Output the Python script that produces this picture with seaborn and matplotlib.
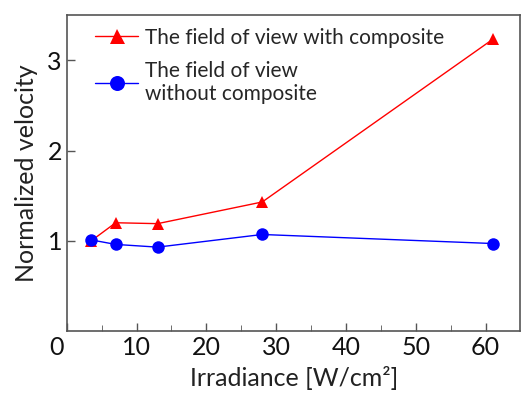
import numpy as np
import pandas as pd
import matplotlib
matplotlib.use("Agg")
import matplotlib.pyplot as plt
import matplotlib.transforms as mtransforms
import seaborn as sns

# Data
irradiance = [3.5, 7, 13, 28, 61]
with_composite = [1.0, 1.20, 1.19, 1.43, 3.23]
without_composite = [1.01, 0.96, 0.93, 1.07, 0.97]
labels = ["The field of view with composite", "The field of view\nwithout composite"]

df = pd.DataFrame({
    "Irradiance": irradiance * 2,
    "Velocity": with_composite + without_composite,
    "Series": [labels[0]] * 5 + [labels[1]] * 5,
})

sns.set_style("ticks")
plt.rcParams["font.family"] = ["Lato", "DejaVu Sans"]

fig = plt.figure(figsize=(5.22, 3.97), dpi=100)
ax = fig.add_axes([0.128, 0.166, 0.869, 0.796])

sns.lineplot(data=df, x="Irradiance", y="Velocity", hue="Series", style="Series",
             palette=["#ff0000", "#0000ff"], markers=["^", "o"], dashes=False,
             markersize=9, markeredgewidth=0, linewidth=1, ax=ax)

ax.set_xlim(0, 65)
ax.set_ylim(0, 3.5)
ax.set_xticks([0, 10, 20, 30, 40, 50, 60])
ax.set_xticks([5, 15, 25, 35, 45, 55], minor=True)
ax.set_yticks([1, 2, 3])
ax.tick_params(direction="in", labelsize=18, color="#555555", length=6, width=1,
               labelcolor="#111111")
ax.tick_params(which="minor", direction="in", length=4, color="#555555")
for s in ax.spines.values():
    s.set_color("#555555")
    s.set_linewidth(1.2)

# the "0" label sits a bit left of the origin in the reference
fig.canvas.draw()
zero_lbl = ax.get_xticklabels()[0]
zero_lbl.set_transform(zero_lbl.get_transform() +
                       mtransforms.ScaledTranslation(-0.1, 0, fig.dpi_scale_trans))

ax.set_xlabel("Irradiance [W/cm²]", fontsize=18, color="#222222", labelpad=5)
ax.set_ylabel("Normalized velocity", fontsize=18, color="#222222", labelpad=7)

ax.legend(loc="upper left", frameon=False, fontsize=15, handlelength=2.1,
          bbox_to_anchor=(0.02, 1.02), labelspacing=0.64, handletextpad=0.3,
          markerscale=1.2)

fig.savefig("out.png", dpi=100)
